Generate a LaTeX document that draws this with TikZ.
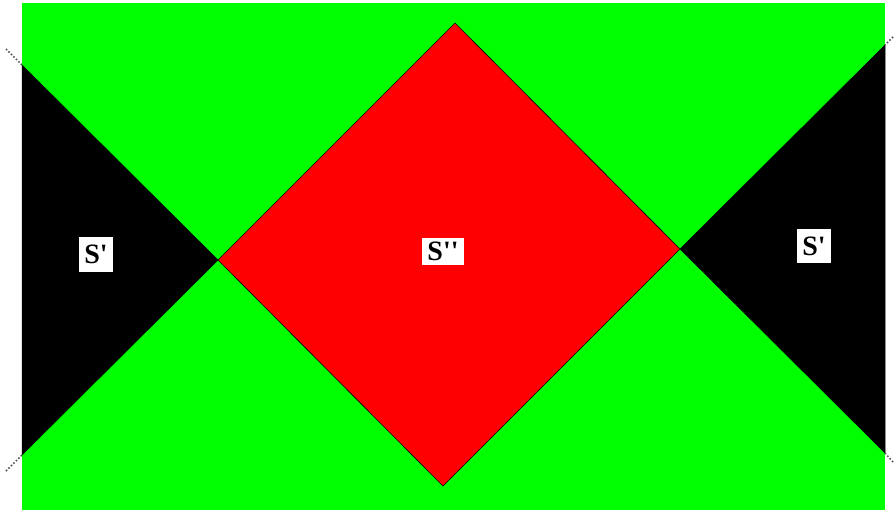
\documentclass[tikz,border=0pt]{standalone}
\usepackage{fontspec}
\setmainfont{Liberation Serif}
\usepackage{xcolor}
\definecolor{fieldgreen}{RGB}{0,255,0}
\definecolor{coreRed}{RGB}{255,0,0}
\tikzset{
  region label/.style={fill=white, font=\fontsize{28}{28}\selectfont\bfseries, inner xsep=5pt, inner ysep=2pt},
  ext line/.style={dotted, gray!60!black, line width=1.5pt}
}

\begin{document}
\begin{tikzpicture}[x=1pt, y=-1pt]
    \useasboundingbox (0,0) rectangle (895,512);

    % Corner points
    \coordinate (tl) at (22,3);
    \coordinate (br) at (885,510);
    \coordinate (lt) at (22,65);
    \coordinate (lb) at (22,455);
    \coordinate (rt) at (885,45);
    \coordinate (rb) at (885,453);
    \coordinate (top) at (455,23);
    \coordinate (bot) at (443,486);
    \coordinate (lc) at (218,260);
    \coordinate (rc) at (680,249);

    % Green field
    \fill[fieldgreen] (tl) rectangle (br);

    % Black wedges
    \draw[fill=black, line width=0.5pt] (lt) -- (lc) -- (lb) -- cycle;
    \draw[fill=black, line width=0.5pt] (rt) -- (rc) -- (rb) -- cycle;

    % Red diamond
    \draw[fill=coreRed, line width=0.6pt] (top) -- (rc) -- (bot) -- (lc) -- cycle;

    % Dotted extensions
    \coordinate (ltx) at (6,49);
    \coordinate (lbx) at (6,471);
    \coordinate (rtx) at (893,37);
    \coordinate (rbx) at (893,462);
    \draw[ext line] (ltx) -- (lt);
    \draw[ext line] (lbx) -- (lb);
    \draw[ext line] (rtx) -- (rt);
    \draw[ext line] (rbx) -- (rb);

    % Labels
    \node[region label, minimum height=35pt] (sleft) at (96,254) {S\textquotesingle};
    \node[region label, minimum height=27pt] (smid) at (443,251) {S\textquotesingle\textquotesingle};
    \node[region label, minimum height=34pt] (sright) at (814,246) {S\textquotesingle};
\end{tikzpicture}
\end{document}
